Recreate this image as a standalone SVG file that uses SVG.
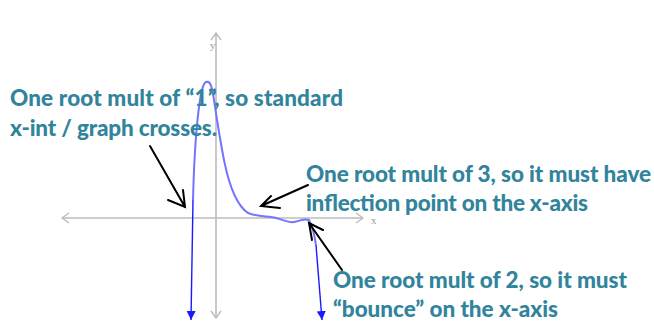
<svg xmlns="http://www.w3.org/2000/svg" width="654" height="322" viewBox="0 0 654 322">
<defs>
<style>
.axis{stroke:#bdbdbd;stroke-width:1.6;fill:none}
.axhead{stroke:#bdbdbd;stroke-width:1.4;fill:none}
.axlbl{font-family:"Liberation Serif",serif;font-size:11px;fill:#9a9a9a}
.curve{stroke:#7474ff;stroke-width:2;fill:none}
.tail{stroke:#1a1aff;stroke-width:1.4;fill:none}
.ptr{stroke:#000;stroke-width:2;fill:none;stroke-linecap:round}
.lbl{font-family:"Lato","Open Sans",sans-serif;font-weight:900;font-size:22.5px;fill:#31849b}
</style>
<marker id="tri" viewBox="0 0 10 10" refX="10" refY="5" markerWidth="9" markerHeight="10" markerUnits="userSpaceOnUse" orient="auto">
<path d="M0,0 L10,5 L0,10 Z" fill="#1a1aff"/>
</marker>
</defs>
<g id="axes">
<line class="axis" x1="62" y1="218" x2="363" y2="218"/>
<path class="axhead" d="M69,213 L62,218 L69,223"/>
<path class="axhead" d="M356,213 L363,218 L356,223"/>
<text class="axlbl" x="371" y="224">x</text>
<line class="axis" x1="216" y1="33" x2="216" y2="318"/>
<path class="axhead" d="M211,40 L216,33 L221,40"/>
<path class="axhead" d="M211,311 L216,318 L221,311"/>
<text class="axlbl" x="210" y="49">y</text>
</g>
<g id="graph">
<path class="curve" d="M193,200 C194,160 197,120 200,100 C202,86 205,81 207,82 C210,81 212,86 214,100 C217,120 220,140 224,160 C229,185 236,205 248,213 C258,217 268,216 276,218 C284,220 288,223 294,222 C300,221 304,218 309,220 C312,225 314,232 316,245"/>
<path class="tail" d="M193,200 L191,320" marker-end="url(#tri)"/>
<path class="tail" d="M316,245 L322,320" marker-end="url(#tri)"/>
</g>
<g id="connectors">
<path class="ptr" d="M150,146 L185,207 M168,200 L185,207 L183,190"/>
<path class="ptr" d="M308,185 L261,206 M271,196 L261,206 L280,208"/>
<path class="ptr" d="M342,270 L309,223 M323,230 L309,223 L312,240"/>
</g>
<g id="label-mult1">
<text class="lbl" x="10" y="106" textLength="333">One root mult of “1”, so standard</text>
<text class="lbl" x="10" y="136" textLength="207">x-int / graph crosses.</text>
</g>
<g id="label-mult3">
<text class="lbl" x="306" y="182" textLength="345">One root mult of 3, so it must have</text>
<text class="lbl" x="306" y="211" textLength="282">inflection point on the x-axis</text>
</g>
<g id="label-mult2">
<text class="lbl" x="333" y="288" textLength="294">One root mult of 2, so it must</text>
<text class="lbl" x="333" y="317" textLength="225">“bounce” on the x-axis</text>
</g>
</svg>
